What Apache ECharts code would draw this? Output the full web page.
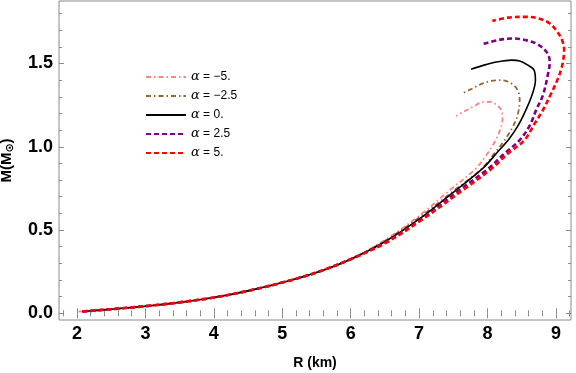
<!DOCTYPE html>
<html>
<head>
<meta charset="utf-8">
<script src="https://cdn.jsdelivr.net/npm/echarts@6/dist/echarts.min.js"></script>
<style>html,body{margin:0;padding:0;background:#fff;}#c{width:576px;height:373px;}</style>
</head>
<body>
<div id="c"></div>
<script>
// Axis ticks
const xTicks = [2, 3, 4, 5, 6, 7, 8, 9];
const yTicks = [0.0, 0.5, 1.0, 1.5];
const alphaLabels = ['−5.', '−2.5', '0.', '2.5', '5.'];

// Shared low-mass branch (R in km, M in solar masses)
const rLow = [2.5, 3.0, 3.5, 4.0, 4.5, 5.0, 5.5, 6.0];
const mLow = [0.025, 0.043, 0.066, 0.095, 0.135, 0.185, 0.245, 0.325];

// alpha = -5
const rA1 = [6.5, 7.0, 7.45, 7.83, 8.0, 8.12, 8.19, 8.22, 8.20, 8.14, 8.03, 7.90, 7.79, 7.65, 7.54];
const mA1 = [0.44, 0.585, 0.74, 0.87, 0.96, 1.04, 1.11, 1.17, 1.22, 1.25, 1.27, 1.265, 1.24, 1.21, 1.185];
// alpha = -2.5
const rA2 = [6.5, 7.0, 7.52, 7.91, 8.10, 8.25, 8.37, 8.44, 8.47, 8.44, 8.35, 8.20, 8.05, 7.93, 7.78, 7.63];
const mA2 = [0.435, 0.575, 0.74, 0.865, 0.96, 1.04, 1.12, 1.19, 1.28, 1.34, 1.38, 1.40, 1.395, 1.38, 1.35, 1.32];
// alpha = 0
const rA3 = [6.5, 7.0, 7.54, 7.93, 8.15, 8.32, 8.45, 8.56, 8.65, 8.70, 8.68, 8.59, 8.47, 8.35, 8.15, 7.95, 7.76];
const mA3 = [0.43, 0.565, 0.74, 0.87, 0.97, 1.05, 1.13, 1.22, 1.31, 1.40, 1.46, 1.49, 1.515, 1.52, 1.51, 1.49, 1.465];
// alpha = 2.5
const rA4 = [6.5, 7.0, 7.59, 8.0, 8.25, 8.47, 8.62, 8.71, 8.81, 8.88, 8.91, 8.86, 8.71, 8.50, 8.37, 8.15, 7.92];
const mA4 = [0.425, 0.555, 0.74, 0.865, 0.96, 1.04, 1.13, 1.22, 1.31, 1.43, 1.51, 1.57, 1.62, 1.645, 1.65, 1.64, 1.615];
// alpha = 5
const rA5 = [6.5, 7.0, 7.64, 8.05, 8.30, 8.54, 8.69, 8.81, 8.93, 9.02, 9.08, 9.11, 9.12, 9.09, 9.02, 8.91, 8.75, 8.56, 8.30, 8.07];
const mA5 = [0.42, 0.55, 0.74, 0.865, 0.96, 1.04, 1.14, 1.22, 1.32, 1.40, 1.47, 1.53, 1.58, 1.64, 1.69, 1.74, 1.77, 1.78, 1.775, 1.755];

const rStart = [2.02, 2.08, 2.08, 2.08, 2.08];
const mStart = [0.01, 0.011, 0.011, 0.011, 0.011];

const upperR = [rA1, rA2, rA3, rA4, rA5];
const upperM = [mA1, mA2, mA3, mA4, mA5];

const colors = ['#FF8080', '#996633', '#000000', '#800080', '#FF0000'];
const widths = [1.8, 1.8, 1.6, 2.6, 2.6];
const dashes = [[5, 3, 1.5, 3], [5, 3, 1.5, 3], 'solid', [5, 3], [5, 3]];

function buildCurve(i) {
  const pts = [[rStart[i], mStart[i]]];
  for (let k = 0; k < rLow.length; k++) pts.push([rLow[k], mLow[k]]);
  for (let k = 0; k < upperR[i].length; k++) pts.push([upperR[i][k], upperM[i][k]]);
  return pts;
}

const xMin = 1.737, xMax = 9.22, yMin = -0.04, yMax = 1.875;
const xMinor = [], yMinor = [];
for (let v = 18; v <= 92; v += 2) { if (v % 10 !== 0) xMinor.push(v / 10); }
for (let v = 1; v <= 18; v++) { if (v % 5 !== 0) yMinor.push(v / 10); }

const frameCol = '#8a8a8a';
const FONT = 'Liberation Sans, Arial, sans-serif';

function xAx(pos, vals, len, labels) {
  return {
    type: 'value', min: xMin, max: xMax, position: pos,
    axisLine: {show: false}, splitLine: {show: false},
    axisTick: {show: true, inside: true, length: len, customValues: vals, lineStyle: {color: frameCol, width: 1}},
    axisLabel: labels ? {show: true, customValues: xTicks, margin: 5, color: '#000', fontFamily: FONT, fontWeight: 'bold', fontSize: 18, formatter: v => String(Math.round(v))} : {show: false},
    name: labels ? 'R (km)' : '', nameLocation: 'middle', nameGap: 36,
    nameTextStyle: {color: '#000', fontFamily: FONT, fontWeight: 'bold', fontSize: 14}
  };
}
function yAx(pos, vals, len, labels) {
  return {
    type: 'value', min: yMin, max: yMax, position: pos,
    axisLine: {show: false}, splitLine: {show: false},
    axisTick: {show: true, inside: true, length: len, customValues: vals, lineStyle: {color: frameCol, width: 1}},
    axisLabel: labels ? {show: true, customValues: yTicks, margin: 6, color: '#000', fontFamily: FONT, fontWeight: 'bold', fontSize: 18, formatter: v => v.toFixed(1)} : {show: false},
    name: labels ? '{a|M(M}{b|⊙}{a|)}' : '', nameLocation: 'middle', nameGap: 43, nameRotate: 90,
    nameTextStyle: {color: '#000', fontFamily: FONT, fontWeight: 'bold', fontSize: 15,
      rich: {a: {fontFamily: FONT, fontWeight: 'bold', fontSize: 15, color: '#000'},
             b: {fontFamily: 'DejaVu Sans, sans-serif', fontSize: 11, color: '#000', verticalAlign: 'bottom', padding: [7, 0, 0, 0]}}}
  };
}

const series = alphaLabels.map((a, i) => ({
  name: 'α = ' + a,
  type: 'line',
  xAxisIndex: 0, yAxisIndex: 0,
  data: buildCurve(i),
  smooth: 0.35,
  symbol: 'none', showSymbol: false,
  lineStyle: {color: colors[i], width: widths[i], type: dashes[i], cap: 'butt'},
  itemStyle: {color: colors[i]},
  z: 2 + i
}));

const chart = echarts.init(document.getElementById('c'), null, {renderer: 'canvas'});
chart.setOption({
  animation: false,
  backgroundColor: '#fff',
  textStyle: {fontFamily: FONT},
  grid: {left: 59, right: 5, top: 1, bottom: 53, containLabel: false, outerBoundsMode: 'none',
         show: true, borderColor: frameCol, borderWidth: 1, backgroundColor: 'transparent'},
  legend: {
    show: true, orient: 'vertical', left: 140, top: 65,
    itemWidth: 40, itemHeight: 14, itemGap: 5,
    itemStyle: {opacity: 0, borderWidth: 0},
    data: series.map(s => s.name),
    formatter: name => '{i|α}{t|' + name.slice(1) + '}',
    textStyle: {color: '#000', fontFamily: FONT, fontSize: 12, lineHeight: 14,
      rich: {i: {fontStyle: 'italic', fontFamily: 'DejaVu Serif, serif', fontSize: 13, color: '#000'},
             t: {fontFamily: FONT, fontSize: 12, color: '#000'}}},
    selectedMode: false
  },
  xAxis: [xAx('bottom', xTicks, 5, true), xAx('bottom', xMinor, 3, false), xAx('top', xTicks, 5, false), xAx('top', xMinor, 3, false)],
  yAxis: [yAx('left', yTicks, 5, true), yAx('left', yMinor, 3, false), yAx('right', yTicks, 5, false), yAx('right', yMinor, 3, false)],
  series: series
});
</script>
</body>
</html>
